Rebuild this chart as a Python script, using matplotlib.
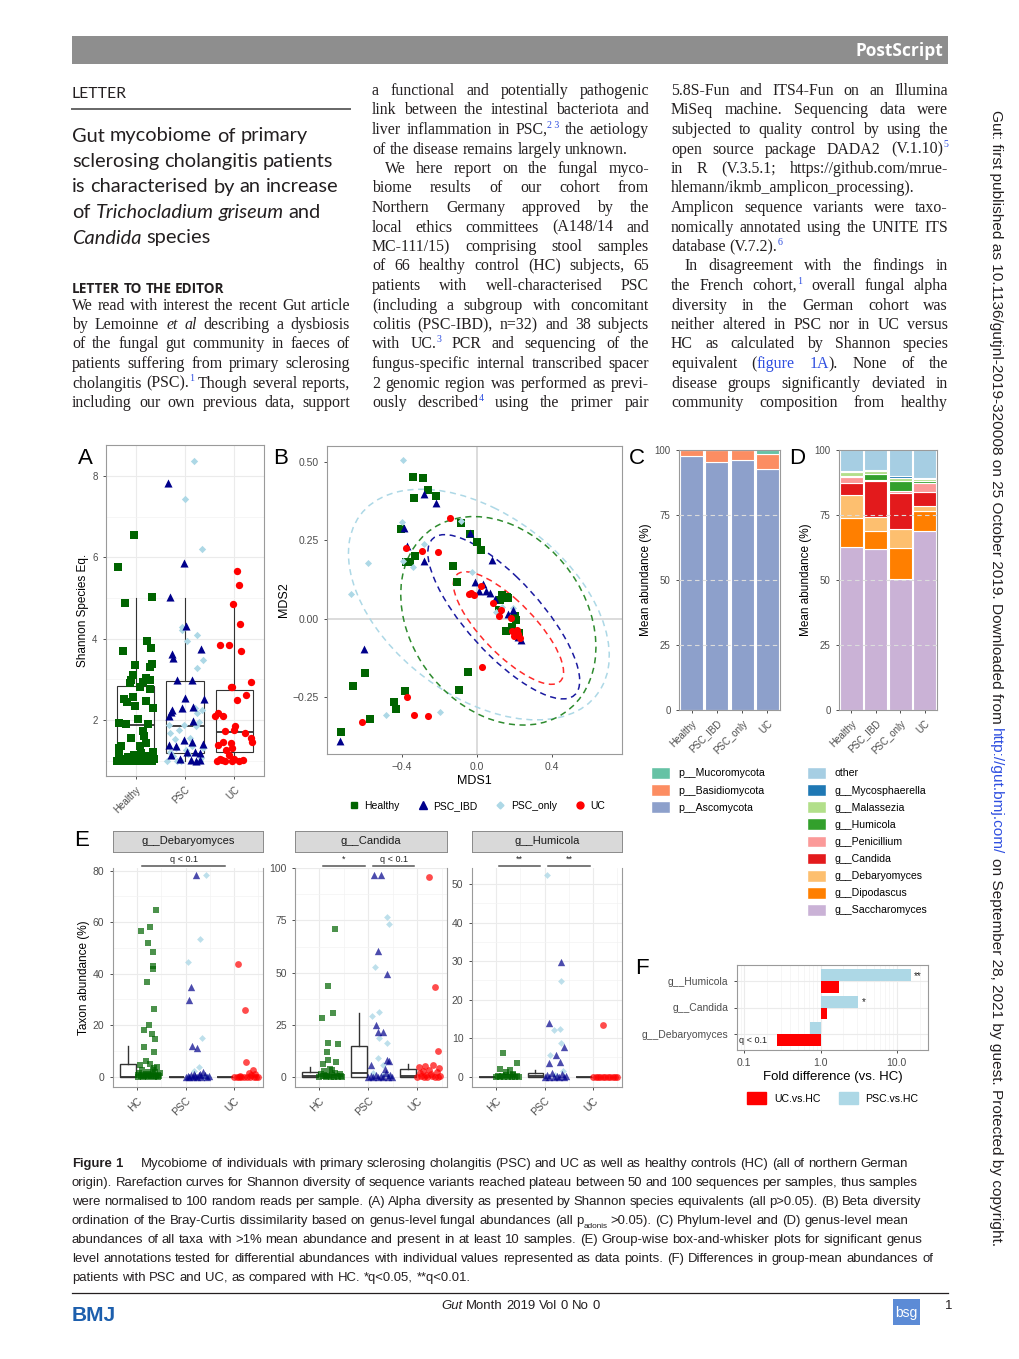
import re
import numpy as np
import matplotlib
matplotlib.use("Agg")
import matplotlib.pyplot as plt
from matplotlib import font_manager
from matplotlib.patches import Rectangle, Patch, Ellipse
from matplotlib.lines import Line2D
from matplotlib.ticker import NullFormatter, FixedLocator

# ---------------- data ----------------
groups_a = ['Healthy', 'PSC', 'UC']
# panel A: (jitter offset, Shannon species eq.)
a_healthy = np.array([
    (-0.36, 5.77), (-0.03, 6.55), (-0.21, 4.87), (0.34, 5.02), (-0.25, 3.70), (0.24, 3.95),
    (0.32, 3.77), (-0.02, 3.35), (0.33, 3.38), (0.30, 3.30), (-0.06, 3.10), (-0.10, 2.98),
    (0.20, 3.02), (0.15, 2.93), (0.30, 2.98), (-0.12, 2.90), (0.08, 2.80), (0.30, 2.75),
    (-0.06, 2.57), (-0.23, 2.52), (-0.17, 2.45), (-0.01, 2.35), (0.20, 2.46), (0.35, 2.29),
    (0.04, 2.03), (-0.33, 1.93), (-0.19, 1.90), (0.25, 1.90), (0.14, 1.72), (0.17, 1.60),
    (-0.10, 1.55), (0.20, 1.43), (-0.29, 1.37), (-0.33, 1.32), (0.09, 1.37), (-0.04, 1.14),
    (0.10, 1.18), (0.36, 1.20), (-0.33, 1.10), (0.25, 1.10), (-0.15, 1.08), (-0.37, 1.00),
    (-0.30, 1.00), (-0.22, 1.00), (-0.12, 1.00), (-0.05, 1.00), (0.03, 1.00), (0.10, 1.00),
    (0.16, 1.00), (0.22, 1.00), (0.28, 1.00), (0.34, 1.00), (-0.35, 0.98), (0.05, 0.98),
    (0.18, 0.98), (-0.26, 1.04), (0.37, 1.03)])
a_psc_ibd = np.array([
    (-0.35, 7.82), (-0.02, 5.85), (-0.31, 5.01), (0.03, 4.31), (-0.26, 3.63), (-0.25, 3.52),
    (0.33, 3.74), (-0.16, 2.97), (0.14, 2.97), (0.01, 2.54), (0.38, 2.52), (-0.26, 2.25),
    (-0.28, 2.20), (-0.06, 2.28), (0.17, 2.32), (-0.33, 2.10), (0.16, 1.97), (-0.02, 1.50),
    (0.15, 1.46), (-0.32, 1.38), (-0.18, 1.37), (0.36, 1.40), (0.21, 1.22), (0.30, 1.18),
    (0.04, 1.22), (-0.28, 1.14), (0.12, 1.02), (0.30, 1.02), (-0.10, 1.05), (0.22, 1.00)])
a_psc_only = np.array([
    (0.18, 8.36), (0.01, 7.43), (0.35, 6.20), (-0.07, 4.28), (-0.06, 4.22), (0.05, 3.94),
    (0.25, 4.08), (0.36, 3.48), (0.24, 3.28), (-0.33, 1.87), (-0.31, 1.67), (0.23, 1.84),
    (0.25, 2.17), (0.35, 2.25), (0.20, 2.30), (-0.21, 1.54), (-0.18, 1.30), (0.03, 1.26),
    (-0.25, 1.10), (-0.37, 1.00), (-0.17, 1.00), (-0.08, 1.00), (0.33, 1.06), (0.31, 1.00),
    (0.10, 1.55), (-0.12, 1.75), (0.28, 1.95), (0.06, 1.15), (-0.30, 1.20), (0.15, 1.35),
    (0.37, 1.30), (-0.02, 1.88)])
a_uc = np.array([
    (0.05, 5.66), (0.09, 5.32), (-0.02, 4.84), (0.11, 4.35), (-0.29, 3.85), (-0.10, 3.85),
    (0.13, 3.69), (0.34, 2.93), (-0.05, 2.82), (-0.07, 2.80), (0.23, 2.60), (0.05, 2.48),
    (-0.39, 2.09), (-0.34, 2.18), (-0.24, 2.09), (0.01, 1.84), (-0.20, 1.73), (0.00, 1.75),
    (0.21, 1.68), (0.33, 1.56), (0.35, 1.46), (-0.34, 1.38), (-0.23, 1.46), (-0.06, 1.42),
    (-0.16, 1.26), (-0.04, 1.30), (-0.35, 1.00), (-0.26, 1.02), (-0.19, 1.00), (-0.05, 1.00),
    (0.10, 1.00), (-0.10, 1.14), (-0.30, 1.05), (0.00, 1.05), (0.18, 1.02)])
# box stats per group: low whisker, q1, median, q3, high whisker
a_boxes = [(1.0, 1.10, 1.88, 2.83, 5.0), (1.0, 1.18, 1.84, 2.96, 5.0), (1.0, 1.22, 1.69, 2.74, 4.75)]

# panel B: MDS ordination
b_healthy = np.array([
    (-0.341, 0.453), (-0.290, 0.450), (-0.338, 0.384), (-0.263, 0.411), (-0.220, 0.391),
    (-0.087, 0.306), (-0.036, 0.269), (0.000, 0.244), (0.021, 0.219), (-0.407, 0.285),
    (-0.329, 0.200), (-0.359, 0.182), (-0.380, 0.182), (-0.126, 0.168), (-0.105, 0.117),
    (0.135, 0.074), (0.160, 0.070), (0.165, 0.065), (0.121, 0.060), (0.114, 0.026),
    (0.200, 0.009), (0.206, -0.004), (0.153, -0.039), (0.187, -0.028), (0.224, -0.045),
    (-0.048, -0.171), (-0.098, -0.228), (-0.384, -0.230), (-0.444, -0.267), (-0.430, -0.288),
    (-0.572, -0.321), (-0.596, -0.174), (-0.661, -0.214), (-0.727, -0.363)])
b_psc_ibd = np.array([
    (-0.283, 0.398), (-0.217, 0.368), (-0.391, 0.288), (-0.372, 0.232), (-0.283, 0.185),
    (-0.036, 0.272), (0.078, 0.187), (-0.012, 0.118), (0.032, 0.111), (0.011, 0.089),
    (0.046, 0.088), (0.068, 0.081), (0.096, 0.062), (0.192, 0.026), (0.167, 0.015),
    (0.219, -0.057), (0.236, -0.068), (-0.603, -0.098), (-0.731, -0.390)])
b_psc_only = np.array([
    (-0.396, 0.505), (-0.398, 0.307), (-0.283, 0.237), (-0.581, 0.179), (-0.670, 0.078),
    (-0.395, 0.184), (-0.341, 0.166), (-0.087, 0.312), (-0.027, 0.150), (0.103, 0.022),
    (0.130, 0.038), (0.192, 0.033), (-0.484, -0.307), (-0.196, -0.297)])
b_uc = np.array([
    (-0.146, 0.322), (-0.380, 0.227), (-0.295, 0.217), (-0.206, 0.214), (-0.043, 0.079),
    (-0.030, 0.083), (-0.018, 0.076), (0.018, 0.104), (0.082, 0.051), (0.126, 0.028),
    (0.116, 0.010), (0.183, 0.001), (0.188, -0.041), (0.210, -0.036), (0.196, -0.055),
    (0.219, -0.049), (0.228, -0.063), (0.028, -0.153), (-0.372, -0.249), (-0.336, -0.307),
    (-0.260, -0.310), (-0.613, -0.331)])
# 95% ellipses: centre, two conjugate semi-axis vectors (data units)
b_ell_centre = {'PSC_only': (0.009, 0.045), 'Healthy': (0.113, -0.007),
                'PSC_IBD': (0.142, 0.006), 'UC': (0.167, -0.030)}
b_ell_axes = {'PSC_only': ((0.695, -0.163), (0.0, -0.330)),
              'Healthy': ((0.520, -0.084), (0.0, -0.322)),
              'PSC_IBD': ((0.377, -0.250), (0.147, 0.079)),
              'UC': ((0.276, -0.170), (0.100, 0.058))}

# panel C: phylum mean abundance (%)
groups_cd = ['Healthy', 'PSC_IBD', 'PSC_only', 'UC']
phyla = ['p__Ascomycota', 'p__Basidiomycota', 'p__Mucoromycota']
c_asco = [97.6, 95.3, 96.3, 92.6]
c_basidio = [2.4, 4.7, 3.7, 5.8]
c_mucor = [0.0, 0.0, 0.0, 1.6]

# panel D: genus mean abundance (%), bottom to top
genera = ['g__Saccharomyces', 'g__Dipodascus', 'g__Debaryomyces', 'g__Candida',
          'g__Penicillium', 'g__Humicola', 'g__Malassezia', 'g__Mycosphaerella', 'other']
d_sacch = [62.8, 61.8, 50.3, 69.0]
d_dipod = [11.2, 7.2, 11.9, 7.5]
d_debary = [8.7, 5.4, 7.3, 2.1]
d_candida = [4.5, 13.6, 14.1, 5.4]
d_penic = [2.5, 0.3, 0.8, 3.4]
d_humicola = [0.3, 2.3, 3.7, 0.8]
d_malass = [1.4, 1.3, 1.0, 0.6]
d_myco = [0.5, 0.4, 1.0, 0.6]
d_other = [8.1, 7.7, 9.9, 10.6]

# panel E: taxon abundance (%), (jitter offset, value)
e_groups = ['HC', 'PSC', 'UC']
deb_hc = np.array([
    (0.08, 56.7), (0.27, 58.1), (0.23, 51.9), (0.33, 48.5), (0.33, 42.8), (0.33, 41.8),
    (0.39, 64.7), (0.20, 36.9), (0.35, 26.1), (0.24, 20.1), (0.14, 18.0), (0.30, 16.4),
    (0.38, 14.5), (0.15, 11.7), (0.36, 9.7), (0.19, 6.1), (0.07, 4.5), (0.27, 4.8),
    (0.42, 3.9), (0.35, 3.5), (0.02, 0.5), (0.05, 1.5), (0.08, 0.2), (0.10, 2.5), (0.12, 0.8),
    (0.15, 0.1), (0.18, 1.2), (0.20, 0.3), (0.22, 2.0), (0.25, 0.6), (0.28, 0.1), (0.30, 1.0),
    (0.32, 0.4), (0.35, 0.0), (0.38, 1.8), (0.40, 0.2), (0.43, 0.7), (0.46, 0.1), (0.48, 1.3),
    (0.03, 0.0), (0.13, 0.0), (0.23, 0.0), (0.33, 2.8), (0.44, 0.0)])
deb_psc_ibd = np.array([
    (0.21, 78.3), (0.11, 35.0), (0.07, 29.8), (0.14, 12.0), (0.24, 11.3), (0.36, 1.9),
    (0.00, 0.0), (0.04, 0.3), (0.08, 0.0), (0.12, 0.5), (0.16, 0.0), (0.20, 0.2), (0.24, 0.0),
    (0.28, 0.6), (0.32, 0.0), (0.40, 0.8), (0.44, 0.0), (0.48, 0.3), (0.30, 1.2), (0.18, 1.0)])
deb_psc_only = np.array([
    (0.43, 78.1), (0.29, 53.5), (0.05, 44.4), (0.34, 14.9), (0.27, 3.9), (0.18, 2.2),
    (0.10, 0.0), (0.22, 0.0), (0.38, 0.0), (0.46, 0.0)])
deb_uc = np.array([
    (0.08, 43.9), (0.23, 25.9), (0.24, 5.8), (0.38, 2.6), (0.30, 1.5), (0.34, 0.5),
    (0.00, 0.0), (0.05, 0.0), (0.10, 0.0), (0.15, 0.0), (0.20, 0.0), (0.27, 0.0), (0.33, 0.0),
    (0.40, 0.0), (0.45, 0.0), (0.49, 0.0), (0.12, 0.4), (0.42, 1.0)])
deb_boxes = [(0, 0, 0, 5.0, 11.9), (0, 0, 0, 0, 0), (0, 0, 0, 0, 0)]

can_hc = np.array([
    (0.32, 70.7), (0.18, 43.5), (0.27, 30.7), (0.06, 28.0), (0.17, 16.0), (0.37, 15.7),
    (0.15, 12.0), (0.08, 5.9), (0.34, 6.9), (0.18, 8.0), (0.25, 3.2), (0.00, 0.0), (0.04, 1.5),
    (0.07, 0.3), (0.10, 2.5), (0.13, 0.0), (0.16, 1.0), (0.20, 0.2), (0.22, 3.8), (0.26, 0.6),
    (0.29, 0.0), (0.32, 1.8), (0.35, 0.4), (0.38, 0.0), (0.41, 1.2), (0.44, 0.1), (0.47, 0.0),
    (0.24, 0.0), (0.11, 0.5)])
can_psc_ibd = np.array([
    (0.12, 96.8), (0.25, 96.8), (0.20, 60.3), (0.39, 49.3), (0.15, 24.8), (0.20, 21.3),
    (0.29, 21.6), (0.37, 8.0), (0.42, 7.7), (0.06, 5.6), (0.00, 0.0), (0.05, 0.5), (0.10, 0.0),
    (0.15, 1.0), (0.20, 0.0), (0.25, 0.3), (0.30, 0.0), (0.35, 2.0), (0.40, 0.0), (0.45, 0.6),
    (0.48, 0.0), (0.33, 3.5)])
can_psc_only = np.array([
    (0.37, 76.8), (0.43, 73.3), (0.14, 52.8), (0.22, 30.9), (0.07, 29.0), (0.37, 16.0),
    (0.22, 18.7), (0.19, 8.8), (0.29, 5.6), (0.10, 2.0), (0.30, 1.0), (0.42, 0.5)])
can_uc = np.array([
    (0.24, 95.7), (0.37, 42.9), (0.43, 12.3), (0.00, 0.0), (0.04, 4.5), (0.08, 0.3),
    (0.12, 2.5), (0.16, 5.0), (0.20, 0.0), (0.24, 3.0), (0.28, 1.2), (0.32, 5.5), (0.36, 0.0),
    (0.40, 2.2), (0.44, 4.0), (0.47, 0.5), (0.06, 2.0), (0.18, 1.0), (0.30, 0.2), (0.42, 0.0),
    (0.14, 0.0)])
can_boxes = [(0, 0, 0.5, 2.1, 4.8), (0, 0, 1.6, 14.9, 30.7), (0, 0, 0.3, 3.8, 5.9)]

hum_hc = np.array([
    (0.15, 6.1), (0.44, 3.5), (0.09, 2.0), (0.28, 1.7), (0.00, 0.0), (0.04, 0.3), (0.08, 0.0),
    (0.12, 0.2), (0.16, 0.0), (0.20, 0.5), (0.24, 0.0), (0.28, 0.1), (0.32, 0.0), (0.36, 0.4),
    (0.40, 0.0), (0.44, 0.2), (0.48, 0.0), (0.20, 1.2), (0.34, 0.8)])
hum_psc_ibd = np.array([
    (0.34, 29.7), (0.10, 14.0), (0.24, 5.6), (0.10, 3.5), (0.32, 3.7), (0.40, 7.8),
    (0.00, 0.0), (0.05, 0.4), (0.10, 0.0), (0.15, 1.0), (0.20, 0.0), (0.25, 0.2), (0.30, 0.0),
    (0.35, 0.6), (0.40, 0.0), (0.45, 0.3)])
hum_psc_only = np.array([
    (0.04, 52.3), (0.34, 24.9), (0.19, 12.1), (0.32, 12.4), (0.34, 8.7), (0.12, 5.6),
    (0.38, 1.5), (0.22, 0.5)])
hum_uc = np.array([
    (0.20, 13.4), (0.00, 0.0), (0.05, 0.0), (0.10, 0.0), (0.15, 0.0), (0.20, 0.0), (0.25, 0.0),
    (0.30, 0.0), (0.35, 0.0), (0.40, 0.0), (0.45, 0.0), (0.49, 0.0)])
hum_boxes = [(0, 0, 0, 0, 0), (0, 0, 0.3, 1.0, 1.8), (0, 0, 0, 0, 0)]

# panel F: fold difference vs HC
f_genera = ['g__Debaryomyces', 'g__Candida', 'g__Humicola']
f_uc = [0.265, 1.22, 1.74]
f_psc = [0.724, 3.15, 15.3]
f_psc_sig = ['', '*', '**']

# ---------------- page setup ----------------
W, H = 1020, 1359
plt.rcParams['font.family'] = ['Liberation Sans', 'DejaVu Sans']
fig = plt.figure(figsize=(W / 100, H / 100), dpi=100)


def has_font(name):
    try:
        font_manager.findfont(font_manager.FontProperties(family=name), fallback_to_default=False)
        return True
    except Exception:
        return False


NARROW = 'Liberation Sans Narrow' if has_font('Liberation Sans Narrow') else 'Liberation Sans'
SERIF = 'Liberation Serif'
TITLE = 'Lato' if has_font('Lato') else 'Liberation Sans'
INK = '#231F20'
LINK = '#2F4FE0'
GREY = '#4D4D4D'

page = fig.add_axes([0, 0, 1, 1])
page.set_xlim(0, W)
page.set_ylim(H, 0)
page.axis('off')
page.set_zorder(10)
R = fig.canvas.get_renderer()


def px_axes(x0, y0, x1, y1):
    return fig.add_axes([x0 / W, 1 - y1 / H, (x1 - x0) / W, (y1 - y0) / H])


TOKEN = re.compile(r'(\|[^|]*\||\{[^}]*\}|\[[^\]]*\]|#[^#]*#|~[^~]*~)')


def runs_of(word):
    out = []
    for part in TOKEN.split(word):
        if not part:
            continue
        kind = {'|': 'i', '{': 'sup', '[': 'link', '#': 'b', '~': 'sub'}.get(part[0], 'n')
        out.append((part if kind == 'n' else part[1:-1], kind))
    return out


def width_of(t):
    return t.get_window_extent(renderer=R).width


def space_w(fs, family, weight='normal'):
    a = page.text(0, 0, 'n n', fontsize=fs, family=family, fontweight=weight)
    b = page.text(0, 0, 'nn', fontsize=fs, family=family, fontweight=weight)
    w = width_of(a) - width_of(b)
    a.remove()
    b.remove()
    return w


def fit_fs(text, target, family, fs0=10, weight='normal'):
    t = page.text(0, 0, text, fontsize=fs0, family=family, fontweight=weight)
    w = width_of(t)
    t.remove()
    return fs0 * target / w


def draw_line(x0, y, line, fs, family, x1=None, color=INK, weight='normal'):
    words = line.split(' ')
    placed, total = [], 0
    for w in words:
        items = []
        for s, kind in runs_of(w):
            kw = dict(fontsize=fs, family=family, color=color, fontweight=weight,
                      va='baseline', ha='left')
            dy = 0
            if kind == 'i':
                kw['fontstyle'] = 'italic'
            elif kind == 'b':
                kw['fontweight'] = 'bold'
            elif kind == 'link':
                kw['color'] = LINK
            elif kind == 'sup':
                kw['fontsize'] = fs * 0.62
                kw['color'] = LINK
                dy = -fs * 0.40 * 100 / 72
            elif kind == 'sub':
                kw['fontsize'] = fs * 0.62
                dy = fs * 0.30 * 100 / 72
            t = page.text(0, y, s, **kw)
            wd = width_of(t)
            items.append((t, wd, dy))
            total += wd
        placed.append(items)
    gap = space_w(fs, family, weight)
    if x1 is not None and len(words) > 1:
        gap = (x1 - x0 - total) / (len(words) - 1)
    x = x0
    for items in placed:
        for t, wd, dy in items:
            t.set_position((x, y + dy))
            x += wd
        x += gap


# header bar
page.add_patch(Rectangle((72, 36), 876, 28, color='#8E8E8E', lw=0))
page.text(943, 51, 'PostScript', color='white', fontsize=12.5, fontweight='bold',
          family='Open Sans', ha='right', va='center')

# column 1 heading and title
draw_line(72, 98.5, 'LETTER', fit_fs('LETTER', 55, TITLE, 14), TITLE)
page.plot([72, 350], [109, 109], color='#666666', lw=1.4)
title_lines = ['Gut mycobiome of primary', 'sclerosing cholangitis patients',
               'is characterised by an increase', 'of |Trichocladium| |griseum| and',
               '|Candida| species']
tfs = fit_fs('is characterised by an increase', 267, TITLE, 15)
for i, ln in enumerate(title_lines):
    draw_line(72, 141.5 + 25.5 * i, ln, tfs, TITLE)
draw_line(72, 293, 'LETTER TO THE EDITOR',
          fit_fs('LETTER TO THE EDITOR', 153, 'Open Sans', 10, 'bold'), 'Open Sans',
          weight='bold')

# body text (J = justified, L = last line of paragraph, I = indented)
col1 = [('J', 'We read with interest the recent Gut article'),
        ('J', 'by Lemoinne |et| |al| describing a dysbiosis'),
        ('J', 'of the fungal gut community in faeces of'),
        ('J', 'patients suffering from primary sclerosing'),
        ('J', 'cholangitis (PSC).{1} Though several reports,'),
        ('J', 'including our own previous data, support')]
col2 = [('J', 'a functional and potentially pathogenic'),
        ('J', 'link between the intestinal bacteriota and'),
        ('J', 'liver inflammation in PSC,{2\u00a03} the aetiology'),
        ('L', 'of the disease remains largely unknown.'),
        ('I', 'We here report on the fungal myco-'),
        ('J', 'biome results of our cohort from'),
        ('J', 'Northern Germany approved by the'),
        ('J', 'local ethics committees (A148/14 and'),
        ('J', 'MC-111/15) comprising stool samples'),
        ('J', 'of 66 healthy control (HC) subjects, 65'),
        ('J', 'patients with well-characterised PSC'),
        ('J', '(including a subgroup with concomitant'),
        ('J', 'colitis (PSC-IBD), n=32) and 38 subjects'),
        ('J', 'with UC.{3} PCR and sequencing of the'),
        ('J', 'fungus-specific internal transcribed spacer'),
        ('J', '2 genomic region was performed as previ-'),
        ('J', 'ously described{4} using the primer pair')]
col3 = [('J', '5.8S-Fun and ITS4-Fun on an Illumina'),
        ('J', 'MiSeq machine. Sequencing data were'),
        ('J', 'subjected to quality control by using the'),
        ('J', 'open source package DADA2 (V.1.10){5}'),
        ('J', 'in R (V.3.5.1; https://github.com/mrue-'),
        ('J', 'hlemann/ikmb_amplicon_processing).'),
        ('J', 'Amplicon sequence variants were taxo-'),
        ('J', 'nomically annotated using the UNITE ITS'),
        ('L', 'database (V.7.2).{6}'),
        ('I', 'In disagreement with the findings in'),
        ('J', 'the French cohort,{1} overall fungal alpha'),
        ('J', 'diversity in the German cohort was'),
        ('J', 'neither altered in PSC nor in UC versus'),
        ('J', 'HC as calculated by Shannon species'),
        ('J', 'equivalent ([figure] [1A]). None of the'),
        ('J', 'disease groups significantly deviated in'),
        ('J', 'community composition from healthy')]
bfs = fit_fs('fungus-specific internal transcribed spacer', 270, SERIF, 10)
for lines, x0, x1, k0 in [(col1, 72, 350, 11), (col2, 372, 649, 0), (col3, 671, 948, 0)]:
    for i, (mode, ln) in enumerate(lines):
        y = 95 + 19.5 * (k0 + i)
        if mode == 'L':
            draw_line(x0, y, ln, bfs, SERIF)
        elif mode == 'I':
            draw_line(x0 + 13, y, ln, bfs, SERIF, x1=x1)
        else:
            draw_line(x0, y, ln, bfs, SERIF, x1=x1)

# side note
sfs = fit_fs('Gut: first published as 10.1136/gutjnl-2019-320008 on 25 October 2019. '
             'Downloaded from http://gut.bmj.com/ on September 28, 2021 by guest. '
             'Protected by copyright.', 1140, NARROW, 10)
yy = 110
for piece, col in [('Gut: first published as 10.1136/gutjnl-2019-320008 on 25 October 2019. '
                    'Downloaded from', INK), ('http://gut.bmj.com/', LINK),
                   ('on September 28, 2021 by guest. Protected by copyright.', INK)]:
    t = page.text(996, yy, piece, rotation=270, rotation_mode='anchor', ha='left',
                  va='center', fontsize=sfs, family=NARROW, color=col)
    yy += t.get_window_extent(renderer=R).height + space_w(sfs, NARROW)

# caption
cap = [('Mycobiome of individuals with primary sclerosing cholangitis (PSC) and UC as well as '
        'healthy controls (HC) (all of northern German', 908),
       ('origin). Rarefaction curves for Shannon diversity of sequence variants reached plateau '
        'between 50 and 100 sequences per samples, thus samples', 918),
       ('were normalised to 100 random reads per sample. (A) Alpha diversity as presented by '
        'Shannon species equivalents (all p>0.05). (B) Beta diversity', 921),
       ('ordination of the Bray-Curtis dissimilarity based on genus-level fungal abundances '
        '(all p~adonis~ >0.05). (C) Phylum-level and (D) genus-level mean', 908),
       ('abundances of all taxa with >1% mean abundance and present in at least 10 samples. '
        '(E) Group-wise box-and-whisker plots for significant genus', 922),
       ('level annotations tested for differential abundances with individual values '
        'represented as data points. (F) Differences in group-mean abundances of', 933),
       ('patients with PSC and UC, as compared with HC. *q<0.05, **q<0.01.', None)]
cfs = fit_fs(cap[5][0], 933 - 72, NARROW, 10)
draw_line(72, 1167, '#Figure# #1#', cfs, NARROW)
for i, (ln, x1) in enumerate(cap):
    x0 = 141 if i == 0 else 72
    draw_line(x0, 1167 + 19 * i, ln, cfs, NARROW, x1=x1)

# footer
page.plot([72, 948], [1293, 1293], color=INK, lw=0.9)
page.text(72, 1321, 'BMJ', fontsize=15, fontweight='bold', color='#1D5FAD', family=NARROW,
          va='baseline')
draw_line(441, 1309, '|Gut| Month 2019 Vol 0 No 0', cfs, NARROW)
page.add_patch(Rectangle((893, 1299), 27, 26, color='#5C8BD6', lw=0))
page.text(906, 1313, 'bsg', color='white', fontsize=10, ha='center', va='center', family=NARROW)
page.text(945, 1309, '1', fontsize=cfs, family=NARROW, color=INK, va='baseline')

# panel letters
for s, x, y in [('A', 85, 458), ('B', 281, 458), ('C', 637, 458), ('D', 797, 458),
                ('E', 82, 840), ('F', 642, 968)]:
    page.text(x, y, s, fontsize=16, ha='center', va='center', color='black')

# ---------------- plot styling ----------------
C_HC, C_IBD, C_ONLY, C_UC = '#006400', '#00008B', '#ADD8E6', '#FF0000'


def style(ax, fs=7):
    for sp in ax.spines.values():
        sp.set_color('#9A9A9A')
        sp.set_linewidth(0.8)
    ax.tick_params(labelsize=fs, colors='#333333', labelcolor=GREY, length=2.5, width=0.6)
    ax.tick_params(which='minor', length=0)
    ax.set_axisbelow(True)
    ax.grid(True, which='major', color='#EBEBEB', lw=0.8)
    ax.grid(True, which='minor', color='#F3F3F3', lw=0.5)


def boxes(ax, stats, pos, width, lw=0.8):
    st = [dict(whislo=s[0], q1=s[1], med=s[2], q3=s[3], whishi=s[4], fliers=[]) for s in stats]
    ax.bxp(st, positions=pos, widths=width, showfliers=False, showcaps=False, patch_artist=True,
           boxprops=dict(facecolor='none', edgecolor='#333333', lw=lw),
           whiskerprops=dict(color='#333333', lw=lw), medianprops=dict(color='#333333', lw=1.3))


# ---- A
axA = px_axes(106, 445, 264, 776)
style(axA)
axA.set_xlim(0.4, 3.6)
axA.set_ylim(0.62, 8.76)
axA.set_yticks([2, 4, 6, 8])
axA.yaxis.set_minor_locator(FixedLocator([1, 3, 5, 7]))
boxes(axA, a_boxes, [1, 2, 3], 0.75)
for arr, cat, col, mk, s in [(a_healthy, 1, C_HC, 's', 28), (a_psc_only, 2, C_ONLY, 'D', 14),
                             (a_psc_ibd, 2, C_IBD, '^', 34), (a_uc, 3, C_UC, 'o', 28)]:
    axA.scatter(cat + arr[:, 0], arr[:, 1], s=s, marker=mk, color=col, lw=0, zorder=3)
axA.set_xticks([1, 2, 3])
axA.set_xticklabels(groups_a, rotation=45, ha='right', rotation_mode='anchor')
axA.set_ylabel('Shannon Species Eq.', fontsize=8.5, labelpad=2)

# ---- B
axB = px_axes(327, 446, 622, 754)
style(axB, 7.5)
axB.grid(False)
axB.set_xlim(-0.80, 0.772)
axB.set_ylim(-0.432, 0.551)
axB.axhline(0, color='#D5D5D5', lw=1.2, zorder=0)
axB.axvline(0, color='#D5D5D5', lw=1.2, zorder=0)
for name, col in [('PSC_only', C_ONLY), ('Healthy', '#2E8B2E'), ('PSC_IBD', '#1A1AA0'),
                  ('UC', '#FF2A2A')]:
    M = np.array(b_ell_axes[name]).T
    U, S, _ = np.linalg.svd(M)
    ang = np.degrees(np.arctan2(U[1, 0], U[0, 0]))
    axB.add_patch(Ellipse(b_ell_centre[name], 2 * S[0], 2 * S[1], angle=ang, fill=False,
                          edgecolor=col, lw=1.1, ls=(0, (4, 3))))
for arr, col, mk, s in [(b_healthy, C_HC, 's', 26), (b_psc_only, C_ONLY, 'D', 13),
                        (b_psc_ibd, C_IBD, '^', 32), (b_uc, C_UC, 'o', 26)]:
    axB.scatter(arr[:, 0], arr[:, 1], s=s, marker=mk, color=col, lw=0, zorder=3)
axB.set_xticks([-0.4, 0.0, 0.4])
axB.set_xticklabels(['\u22120.4', '0.0', '0.4'])
axB.set_yticks([-0.25, 0, 0.25, 0.5])
axB.set_yticklabels(['\u22120.25', '0.00', '0.25', '0.50'])
axB.set_xlabel('MDS1', fontsize=9, labelpad=2)
axB.set_ylabel('MDS2', fontsize=9, labelpad=2)
hB = [Line2D([], [], ls='', marker=m, color=c, markersize=ms)
      for m, c, ms in [('s', C_HC, 5), ('^', C_IBD, 5.5), ('D', C_ONLY, 3.5), ('o', C_UC, 5)]]
fig.legend(hB, ['Healthy', 'PSC_IBD', 'PSC_only', 'UC'], loc='center', ncol=4,
           bbox_to_anchor=(477 / W, 1 - 806 / H), frameon=False, fontsize=7.5,
           handlelength=1.0, handletextpad=0.5, columnspacing=1.7)

# ---- C and D
def stack(ax, layers, colors):
    x = np.arange(1, 5)
    bottom = np.zeros(4)
    for vals, col in zip(layers, colors):
        ax.bar(x, vals, bottom=bottom, width=0.92, color=col, edgecolor='white', lw=0.8)
        bottom += np.array(vals)
    ax.set_xlim(0.5, 4.5)
    ax.set_ylim(0, 100)
    ax.set_yticks([0, 25, 50, 75, 100])
    for v in [25, 50, 75]:
        ax.axhline(v, color='#DCDCDC', lw=0.8, ls=(0, (4, 3)), zorder=3)
    ax.set_xticks(x)
    ax.set_xticklabels(groups_cd, rotation=45, ha='right', rotation_mode='anchor')
    ax.set_ylabel('Mean abundance (%)', fontsize=8.5, labelpad=2)
    ax.grid(False)


c_cols = ['#8DA0CB', '#FC8D62', '#66C2A5']
axC = px_axes(679, 450, 780, 710)
style(axC)
stack(axC, [c_asco, c_basidio, c_mucor], c_cols)
d_cols = ['#CAB2D6', '#FF7F00', '#FDBF6F', '#E31A1C', '#FB9A99', '#33A02C', '#B2DF8A',
          '#1F78B4', '#A6CEE3']
axD = px_axes(839, 450, 937, 710)
style(axD)
stack(axD, [d_sacch, d_dipod, d_debary, d_candida, d_penic, d_humicola, d_malass, d_myco,
            d_other], d_cols)

leg_kw = dict(loc='upper left', frameon=False, fontsize=7.6, handlelength=1.8, handleheight=1.35,
              labelspacing=0.5, handletextpad=0.8, borderpad=0, borderaxespad=0)
fig.legend([Patch(color=c, ec='white') for c in c_cols[::-1]], phyla[::-1],
           bbox_to_anchor=(651 / W, 1 - 767 / H), **leg_kw)
fig.legend([Patch(color=c, ec='white') for c in d_cols[::-1]], genera[::-1],
           bbox_to_anchor=(807 / W, 1 - 767 / H), **leg_kw)

# ---- E
facets = [('g__Debaryomyces', (112.7, 263.3), (-4.1, 81.0), [0, 20, 40, 60, 80],
           [10, 30, 50, 70], deb_boxes, [deb_hc, deb_psc_ibd, deb_psc_only, deb_uc],
           [(1.10, 2.82, 'q < 0.1')]),
          ('g__Candida', (295, 446.7), (-5.1, 100.2), [0, 25, 50, 75, 100],
           [12.5, 37.5, 62.5, 87.5], can_boxes, [can_hc, can_psc_ibd, can_psc_only, can_uc],
           [(1.07, 1.93, '*'), (2.09, 2.94, 'q < 0.1')]),
          ('g__Humicola', (471.7, 622.3), (-2.75, 54.2), [0, 10, 20, 30, 40, 50],
           [5, 15, 25, 35, 45], hum_boxes, [hum_hc, hum_psc_ibd, hum_psc_only, hum_uc],
           [(1.07, 1.91, '**'), (2.08, 2.93, '**')])]
for k, (name, (x0, x1), ylim, yt, ymin, bx, pts, sig) in enumerate(facets):
    ax = px_axes(x0, 868, x1, 1087.3)
    style(ax, 7.5)
    ax.spines['top'].set_visible(False)
    ax.set_xlim(0.5, 3.6)
    ax.set_ylim(*ylim)
    ax.set_yticks(yt)
    ax.yaxis.set_minor_locator(FixedLocator(ymin))
    ax.xaxis.set_minor_locator(FixedLocator([1.5, 2.5, 3.5]))
    ax.xaxis.set_minor_formatter(NullFormatter())
    boxes(ax, bx, [0.81, 1.81, 2.81], 0.32, lw=1.0)
    for arr, cat, col, mk, s, al in [(pts[0], 1, C_HC, 's', 24, 0.7),
                                     (pts[2], 2, C_ONLY, 'D', 12, 0.8),
                                     (pts[1], 2, C_IBD, '^', 28, 0.7),
                                     (pts[3], 3, C_UC, 'o', 24, 0.7)]:
        ax.scatter(cat + arr[:, 0], arr[:, 1], s=s, marker=mk, color=col, lw=0, alpha=al,
                   zorder=3)
    ax.set_xticks([1, 2, 3])
    ax.set_xticklabels(e_groups, rotation=45, ha='right', rotation_mode='anchor')
    tr = ax.get_xaxis_transform()
    for a, b, lab in sig:
        ax.plot([a, b], [1.009, 1.009], transform=tr, color='#555555', lw=1.1, clip_on=False)
        ax.text((a + b) / 2, 1.018, lab, transform=tr, ha='center', va='bottom', fontsize=6.5,
                color='#222222')
    if k == 0:
        ax.set_ylabel('Taxon abundance (%)', fontsize=8.5, labelpad=2)
    st = px_axes(x0, 831, x1, 852)
    st.set_facecolor('#D9D9D9')
    st.set_xticks([])
    st.set_yticks([])
    for sp in st.spines.values():
        sp.set_color('#8A8A8A')
        sp.set_linewidth(0.7)
    st.text(0.5, 0.5, name, ha='center', va='center', fontsize=8, color='#1A1A1A',
            transform=st.transAxes)

# ---- F
axF = px_axes(736.7, 965, 928.3, 1050)
style(axF, 7.5)
axF.set_xscale('log')
axF.set_xlim(0.0794, 26.0)
axF.set_ylim(0.4, 3.6)
yF = np.arange(1, 4)
axF.barh(yF + 0.225, np.array(f_psc) - 1, left=1, height=0.45, color='#ADD8E6', lw=0)
axF.barh(yF - 0.225, np.array(f_uc) - 1, left=1, height=0.45, color='#FF0000', lw=0)
for y, v, lab in zip(yF, f_psc, f_psc_sig):
    if lab:
        axF.text(v * 1.1, y + 0.2, lab, ha='left', va='center', fontsize=7, color='#222222')
axF.text(0.086, 1 - 0.225, 'q < 0.1', ha='left', va='center', fontsize=6.5, color='#222222')
axF.set_xticks([0.1, 1, 10])
axF.set_xticklabels(['0.1', '1.0', '10.0'])
axF.xaxis.set_minor_formatter(NullFormatter())
axF.set_yticks(yF)
axF.set_yticklabels(f_genera)
axF.set_xlabel('Fold difference (vs. HC)', fontsize=9.5, labelpad=2)
fig.legend([Patch(color='#FF0000'), Patch(color='#ADD8E6')], ['UC.vs.HC', 'PSC.vs.HC'],
           loc='center', ncol=2, bbox_to_anchor=(833 / W, 1 - 1098 / H), frameon=False,
           fontsize=7.6, handlelength=1.8, handleheight=1.3, handletextpad=0.7,
           columnspacing=1.8)

fig.savefig('out.png', dpi=100)
